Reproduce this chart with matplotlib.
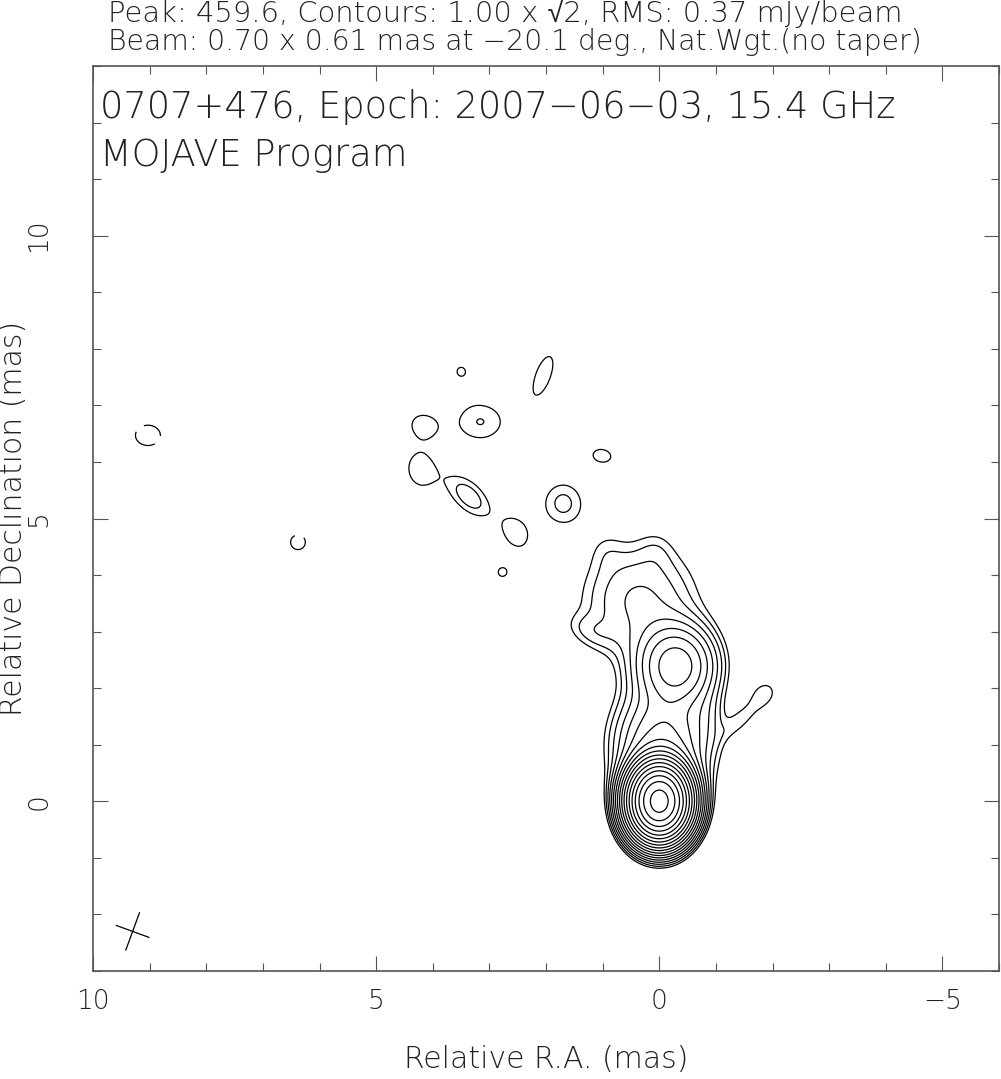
import numpy as np
import matplotlib
matplotlib.use("Agg")
import matplotlib.pyplot as plt
from matplotlib.ticker import MultipleLocator

plt.rcParams["font.family"] = ["DejaVu Sans", "Liberation Sans"]
plt.rcParams["font.weight"] = "light"
plt.rcParams["axes.labelweight"] = "light"

# map header values
peak_flux = 459.6      # mJy/beam
base_level = 1.00      # mJy/beam, lowest contour
rms = 0.37
beam_maj, beam_min, beam_pa = 0.70, 0.61, -20.1
n_levels = 18

# source model:
# RA offset, Dec offset (mas), peak (mJy/beam), FWHM major/minor (mas), PA (deg, N through E)
comp_ra   = [0.00, -0.05, -0.30, 0.35, 1.20, 0.95, 0.05, -0.85, -1.45, -1.85,
             3.50, 2.05, 3.16, 4.17, 4.22, 3.36, 2.53, 2.77, 1.70, 1.01,
             9.03, 6.38]
comp_dec  = [0.00, 1.00, 2.40, 3.55, 3.00, 4.45, 4.45, 1.50, 1.45, 1.90,
             7.61, 7.53, 6.71, 6.66, 5.86, 5.39, 4.74, 4.05, 5.27, 6.11,
             6.47, 4.58]
comp_peak = [425.0, 9.0, 13.5, 3.0, 0.9, 0.45, 0.45, 0.8, 1.15, 1.2,
             1.015, 1.3, 1.43, 1.2, 1.3, 1.75, 1.3, 1.2, 1.55, 1.25,
             -1.15, -1.08]
comp_maj  = [0.80, 1.40, 1.00, 1.60, 0.80, 0.60, 0.60, 0.80, 0.70, 0.55,
             0.60, 1.14, 0.97, 0.60, 0.84, 0.90, 0.75, 0.27, 0.80, 0.54,
             0.98, 0.78]
comp_min  = [0.64, 1.15, 0.95, 1.60, 0.45, 0.50, 0.50, 0.50, 0.30, 0.45,
             0.60, 0.42, 0.78, 0.50, 0.64, 0.50, 0.55, 0.27, 0.75, 0.38,
             0.80, 0.78]
comp_pa   = [0.0, 0.0, 0.0, 0.0, 70.0, 0.0, 0.0, 0.0, -45.0, -40.0,
             0.0, -20.0, 90.0, 70.0, 10.0, 45.0, 25.0, 0.0, 0.0, 80.0,
             90.0, 0.0]

ra = np.linspace(10, -6, 801)
dec = np.linspace(-3, 13, 801)
RA, DEC = np.meshgrid(ra, dec)
img = np.zeros_like(RA)
for x0, y0, s, a, b, pa in zip(comp_ra, comp_dec, comp_peak, comp_maj, comp_min, comp_pa):
    t = np.radians(pa)
    dx, dy = RA - x0, DEC - y0
    u = dx * np.sin(t) + dy * np.cos(t)
    v = dx * np.cos(t) - dy * np.sin(t)
    img += s * np.exp(-4 * np.log(2) * ((u / a) ** 2 + (v / b) ** 2))

levels = base_level * np.sqrt(2) ** np.arange(n_levels)

txt = dict(color="#222222", fontweight="light")

fig = plt.figure(figsize=(10.01, 10.79), dpi=100)
ax = fig.add_axes([93 / 1001, 108 / 1079, 906 / 1001, 905 / 1079])

ax.contour(RA, DEC, img, levels=levels, colors="k", linewidths=0.9)
ax.contour(RA, DEC, img, levels=[-base_level], colors="k", linewidths=0.9,
           linestyles=[(4, (18, 8))])

# beam cross
bx, by = 9.3, -2.3
t = np.radians(beam_pa)
ax.plot([bx - beam_maj / 2 * np.sin(t), bx + beam_maj / 2 * np.sin(t)],
        [by - beam_maj / 2 * np.cos(t), by + beam_maj / 2 * np.cos(t)], color="k", lw=0.9)
ax.plot([bx - beam_min / 2 * np.cos(t), bx + beam_min / 2 * np.cos(t)],
        [by + beam_min / 2 * np.sin(t), by - beam_min / 2 * np.sin(t)], color="k", lw=0.9)

ax.set_xlim(10, -6)
ax.set_ylim(-3, 13)
ax.xaxis.set_major_locator(MultipleLocator(5))
ax.xaxis.set_minor_locator(MultipleLocator(1))
ax.yaxis.set_major_locator(MultipleLocator(5))
ax.yaxis.set_minor_locator(MultipleLocator(1))
ax.tick_params(which="both", direction="in", top=True, right=True,
               color="#555555", width=0.8, labelsize=19, labelcolor="#222222")
ax.tick_params(which="major", length=10.8)
ax.tick_params(which="minor", length=5.8)
ax.tick_params(axis="x", pad=13)
ax.tick_params(axis="y", pad=30)
for lab in ax.get_yticklabels():
    lab.set_rotation(90)
    lab.set_va("center")
for sp in ax.spines.values():
    sp.set_color("#555555")
    sp.set_linewidth(1.2)

ax.set_xlabel("Relative R.A. (mas)", fontsize=21.5, **txt)
ax.set_ylabel("Relative Declination (mas)", fontsize=21.5, **txt)
ax.xaxis.set_label_coords(0.5, -0.082)
ax.yaxis.set_label_coords(-0.072, 0.5)

ax.text(0.008, 0.955, "0707+476, Epoch: 2007\u221206\u221203, 15.4 GHz", transform=ax.transAxes,
        fontsize=26.5, va="center", ha="left", **txt)
ax.text(0.008, 0.902, "MOJAVE Program", transform=ax.transAxes,
        fontsize=26.5, va="center", ha="left", **txt)

fig.text(108 / 1001, 1 - 22 / 1079,
         "Peak: %.1f, Contours: %.2f x \u221a2, RMS: %.2f mJy/beam" % (peak_flux, base_level, rms),
         fontsize=20.9, va="baseline", ha="left", **txt)
fig.text(108 / 1001, 1 - 50 / 1079,
         "Beam: %.2f x %.2f mas at \u2212%.1f deg., Nat.Wgt.(no taper)" % (beam_maj, beam_min, -beam_pa),
         fontsize=20.3, va="baseline", ha="left", **txt)

fig.savefig("out.png", dpi=100)
